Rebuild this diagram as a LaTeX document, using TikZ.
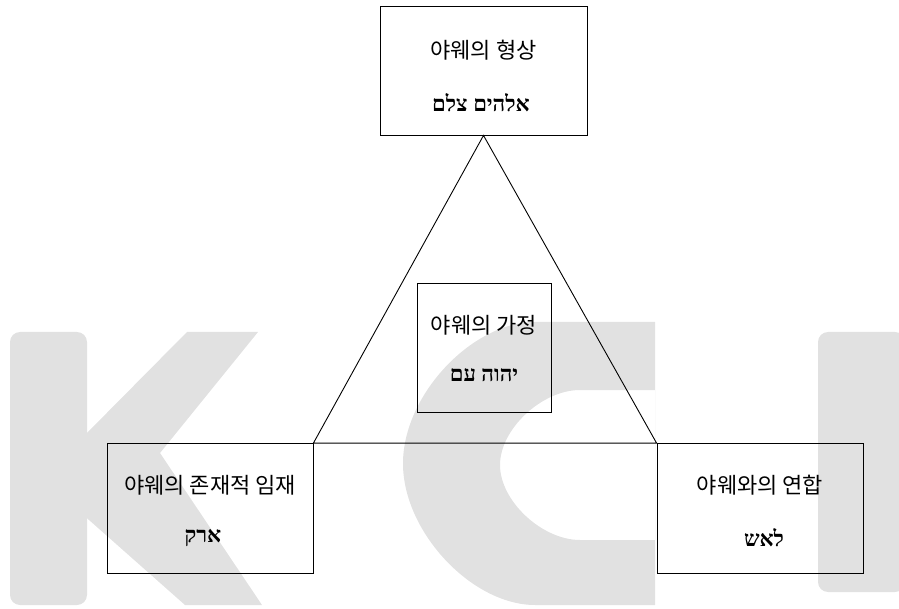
\documentclass[tikz,border=0pt]{standalone}
\usepackage{fontspec}
\newfontfamily\kr{Noto Sans CJK KR}
\newfontfamily\heb[Script=Hebrew]{Liberation Serif}
\TeXXeTstate=1
\definecolor{wm}{RGB}{225,225,225}
\begin{document}
\begin{tikzpicture}[x=1pt,y=-1pt,
  box/.style={draw=black,line width=0.9pt,inner sep=0pt},
  kt/.style={font=\kr\fontsize{22}{26}\selectfont,inner sep=0pt},
  ht/.style={font=\heb\bfseries\fontsize{22}{26}\selectfont,inner sep=0pt},
  link/.style={draw=black,line width=0.9pt}]
\useasboundingbox (0,0) rectangle (899,609);
% KCI watermark
\fill[wm,rounded corners=10pt] (10,332) rectangle (87,605);
\fill[wm] (80,440) -- (187,332) -- (258,332) -- (160,453) -- (262,605) -- (185,605) -- (80,512) -- cycle;
\fill[wm,even odd rule] (655,322) -- (535,322) .. controls (472,322) and (403,395) .. (403,463.5)
   .. controls (403,532) and (472,605) .. (535,605) -- (655,605) -- cycle
   (655,390) -- (580,390) .. controls (542,390) and (500,429) .. (500,465)
   .. controls (500,501) and (542,540) .. (580,540) -- (655,540) -- cycle;
\fill[wm,rounded corners=10pt] (818,332) rectangle (905,592);
% boxes
\node[box,minimum width=207pt,minimum height=129pt] (top) at (483.5,70.5) {};
\node[box,minimum width=134pt,minimum height=129pt] (mid) at (484,347.5) {};
\node[box,minimum width=206pt,minimum height=129.5pt] (bl) at (210,508.25) {};
\node[box,minimum width=206pt,minimum height=129.5pt] (br) at (760,508.25) {};
% triangle
\draw[link] (top.south) -- (bl.north east) -- (br.north west) -- cycle;
% labels
\node[kt] (topk) at (483.5,50) {야웨의 형상};
\node[ht] (toph) at (481,103) {\beginR אלהים צלם\endR};
\node[kt] (midk) at (484,325) {야웨의 가정};
\node[ht] (midh) at (484,375) {\beginR יהוה עם\endR};
\node[kt] (blk) at (210,485) {야웨의 존재적 임재};
\node[ht] (blh) at (203,538) {\beginR ארק\endR};
\node[kt] (brk) at (760,485) {야웨와의 연합};
\node[ht] (brh) at (764,538) {\beginR לאש\endR};
\end{tikzpicture}
\end{document}
